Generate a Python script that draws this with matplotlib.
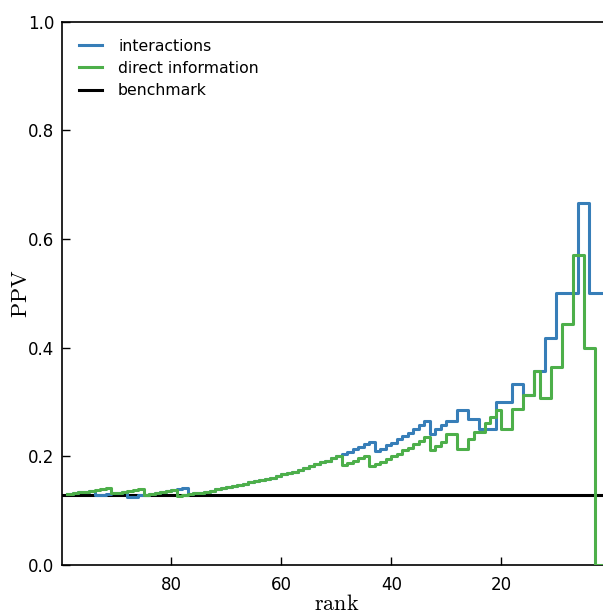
import numpy as np
import matplotlib
matplotlib.use('Agg')
import matplotlib.pyplot as plt

plt.rcParams['mathtext.fontset'] = 'cm'

# PPV, one value per rank 1..99 (segment [k-1, k] holds value k)
ranks = np.arange(1, 100)

ppv_interactions = [
    0.500, 0.500, 0.500, 0.500, 0.667, 0.667, 0.500, 0.500, 0.500, 0.500,  # 1-10
    0.417, 0.417, 0.357, 0.357, 0.313, 0.313, 0.333, 0.333, 0.300, 0.300,  # 11-20
    0.300, 0.250, 0.250, 0.250, 0.269, 0.269, 0.286, 0.286, 0.265, 0.265,  # 21-30
    0.258, 0.250, 0.242, 0.265, 0.257, 0.250, 0.243, 0.237, 0.231, 0.225,  # 31-40
    0.220, 0.214, 0.209, 0.227, 0.222, 0.217, 0.213, 0.208, 0.204, 0.200,  # 41-50
    0.196, 0.192, 0.189, 0.185, 0.182, 0.179, 0.175, 0.172, 0.169, 0.167,  # 51-60
    0.164, 0.161, 0.159, 0.156, 0.154, 0.152, 0.149, 0.147, 0.145, 0.143,  # 61-70
    0.141, 0.139, 0.137, 0.135, 0.133, 0.132, 0.130, 0.141, 0.139, 0.138,  # 71-80
    0.136, 0.134, 0.133, 0.131, 0.129, 0.128, 0.126, 0.125, 0.135, 0.133,  # 81-90
    0.132, 0.130, 0.129, 0.128, 0.137, 0.135, 0.134, 0.133, 0.131,         # 91-99
]

ppv_direct = [
    0.000, 0.000, 0.000, 0.400, 0.400, 0.571, 0.571, 0.444, 0.444, 0.364,  # 1-10
    0.364, 0.308, 0.308, 0.357, 0.313, 0.313, 0.288, 0.288, 0.250, 0.250,  # 11-20
    0.286, 0.273, 0.261, 0.245, 0.245, 0.231, 0.214, 0.214, 0.241, 0.241,  # 21-30
    0.226, 0.219, 0.212, 0.235, 0.229, 0.222, 0.216, 0.211, 0.205, 0.200,  # 31-40
    0.195, 0.190, 0.186, 0.182, 0.200, 0.196, 0.191, 0.188, 0.184, 0.200,  # 41-50
    0.196, 0.192, 0.189, 0.185, 0.182, 0.179, 0.175, 0.172, 0.169, 0.167,  # 51-60
    0.164, 0.161, 0.159, 0.156, 0.154, 0.152, 0.149, 0.147, 0.145, 0.143,  # 61-70
    0.141, 0.139, 0.137, 0.135, 0.133, 0.132, 0.130, 0.128, 0.127, 0.138,  # 71-80
    0.136, 0.134, 0.133, 0.131, 0.129, 0.140, 0.138, 0.136, 0.135, 0.133,  # 81-90
    0.132, 0.141, 0.140, 0.138, 0.137, 0.135, 0.134, 0.133, 0.131,         # 91-99
]

benchmark = 0.129

xticks = [80, 60, 40, 20]
yticks = [0.0, 0.2, 0.4, 0.6, 0.8, 1.0]

fig = plt.figure(figsize=(6.03, 6.14), dpi=100)
ax = fig.add_axes([0.102, 0.0798, 0.912, 0.885])

ax.step(ranks, ppv_interactions, where='pre', color='#377eb8', lw=2.2,
        label='interactions', zorder=3)
ax.step(ranks, ppv_direct, where='pre', color='#4daf4a', lw=2.2,
        label='direct information', zorder=4)
ax.axhline(benchmark, color='black', lw=2.2, label='benchmark', zorder=2)

ax.set_xlim(100, 0)
ax.set_ylim(0, 1)
ax.set_xticks(xticks)
ax.set_yticks(yticks)
ax.set_yticklabels(['%.1f' % t for t in yticks])
ax.tick_params(direction='in', length=6, width=1, labelsize=12,
               top=False, right=False)
ax.tick_params(axis='x', pad=8)
ax.tick_params(axis='y', pad=5)
for s in ax.spines.values():
    s.set_linewidth(1.2)

ax.set_xlabel(r'$\mathrm{rank}$', fontsize=16, labelpad=0)
ax.set_ylabel(r'$\mathrm{PPV}$', fontsize=16, labelpad=-2)

ax.legend(loc='upper left', frameon=False, fontsize=11.3, handlelength=1.5,
          handletextpad=1.0, labelspacing=0.45, borderaxespad=0.7)

fig.savefig('out.png', dpi=100)
